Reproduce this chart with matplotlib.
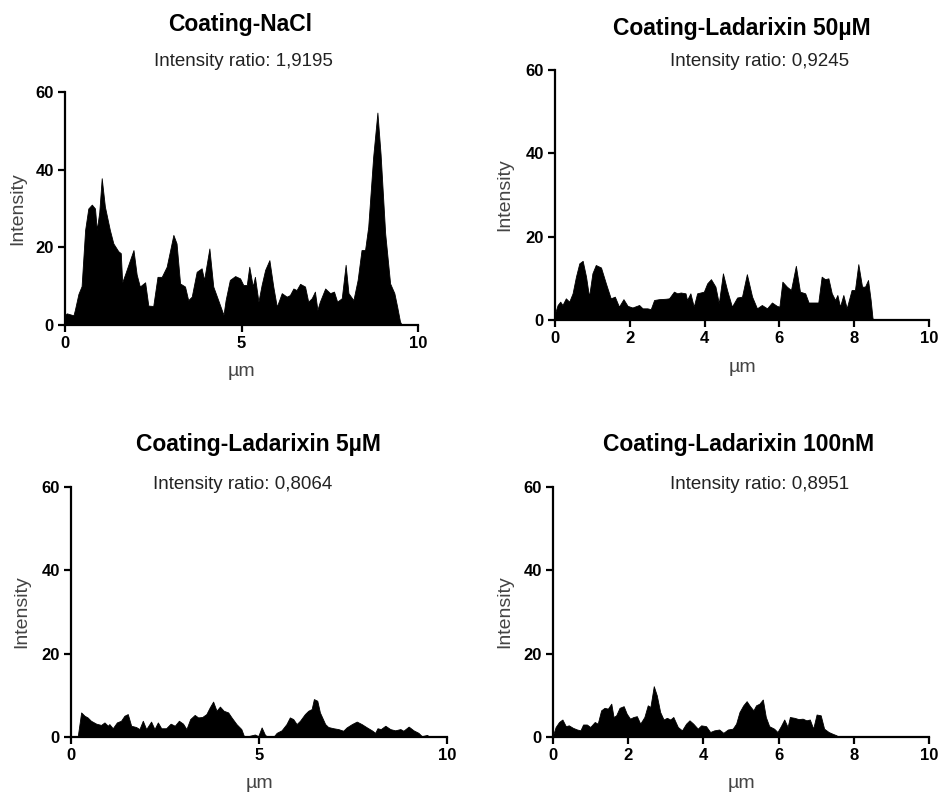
import matplotlib
matplotlib.use("Agg")
import matplotlib.pyplot as plt

plt.rcParams["font.family"] = ["Liberation Sans", "DejaVu Sans"]

# Coating-NaCl
nacl_x = [0.0, 0.05, 0.24, 0.28, 0.38, 0.47, 0.57, 0.66, 0.76, 0.85, 0.90, 0.97,
          1.04, 1.13, 1.27, 1.37, 1.51, 1.58, 1.62, 1.70, 1.84, 1.94, 2.03, 2.12,
          2.27, 2.36, 2.50, 2.62, 2.74, 2.88, 3.07, 3.16, 3.26, 3.40, 3.49, 3.59,
          3.73, 3.87, 3.94, 4.09, 4.20, 4.34, 4.49, 4.55, 4.67, 4.82, 4.96, 5.05,
          5.15, 5.22, 5.32, 5.38, 5.48, 5.57, 5.67, 5.79, 5.90, 6.00, 6.14, 6.28,
          6.37, 6.47, 6.56, 6.66, 6.80, 6.89, 6.99, 7.08, 7.15, 7.22, 7.37, 7.51,
          7.62, 7.71, 7.84, 7.95, 8.03, 8.17, 8.29, 8.40, 8.50, 8.59, 8.73, 8.85,
          8.94, 9.07, 9.21, 9.33, 9.41, 9.49, 9.54]
nacl_y = [2.6, 3.0, 2.5, 3.9, 8.0, 10.0, 24.5, 30.0, 31.0, 30.0, 24.5, 29.0,
          37.8, 30.5, 24.5, 21.0, 19.0, 18.5, 11.0, 13.0, 16.7, 19.3, 13.0, 9.9,
          11.0, 5.0, 4.9, 12.4, 12.4, 15.0, 23.2, 21.0, 10.7, 9.9, 6.4, 7.3,
          13.7, 14.6, 11.6, 19.7, 9.9, 6.4, 2.6, 6.4, 11.6, 12.6, 12.0, 10.3,
          10.3, 15.0, 9.9, 12.4, 6.0, 10.3, 14.2, 16.7, 9.9, 4.7, 8.2, 7.3,
          7.7, 9.4, 9.0, 10.6, 9.9, 6.0, 6.9, 8.6, 3.9, 6.0, 9.4, 8.2,
          8.6, 6.0, 6.9, 15.5, 8.2, 6.4, 11.6, 19.3, 19.3, 25.3, 43.3, 54.7,
          44.0, 23.6, 10.7, 8.2, 4.7, 0.9, 0.0]

# Coating-Ladarixin 50uM
lad50_x = [0.0, 0.07, 0.14, 0.20, 0.29, 0.38, 0.47, 0.56, 0.65, 0.74, 0.83, 0.91,
           1.00, 1.09, 1.23, 1.36, 1.49, 1.60, 1.71, 1.83, 1.94, 2.07, 2.25, 2.34,
           2.47, 2.56, 2.65, 2.78, 2.96, 3.05, 3.18, 3.27, 3.36, 3.49, 3.53, 3.62,
           3.71, 3.80, 3.98, 4.07, 4.17, 4.29, 4.38, 4.49, 4.60, 4.73, 4.87, 5.00,
           5.13, 5.27, 5.40, 5.53, 5.67, 5.80, 5.93, 6.00, 6.08, 6.20, 6.31, 6.44,
           6.55, 6.69, 6.78, 6.91, 7.04, 7.13, 7.22, 7.31, 7.40, 7.49, 7.55, 7.62,
           7.71, 7.80, 7.93, 8.02, 8.11, 8.21, 8.29, 8.37, 8.44, 8.49, 8.55]
lad50_y = [1.6, 3.6, 4.4, 3.6, 5.2, 4.4, 6.4, 10.4, 13.6, 14.2, 10.4, 5.6,
           11.2, 13.2, 12.6, 8.8, 5.2, 5.6, 3.2, 5.0, 3.4, 3.0, 3.6, 2.8,
           2.8, 2.6, 4.8, 5.0, 5.1, 5.2, 6.8, 6.4, 6.6, 6.4, 4.8, 6.4,
           3.2, 6.4, 6.8, 8.8, 9.8, 8.0, 4.0, 11.2, 7.2, 3.2, 5.4, 5.6,
           11.0, 5.6, 2.8, 3.6, 2.8, 4.2, 3.4, 3.2, 9.2, 8.0, 7.2, 13.0,
           6.8, 6.4, 4.2, 4.2, 4.2, 10.4, 9.8, 10.0, 6.4, 4.8, 6.0, 3.2,
           6.0, 2.8, 7.2, 7.2, 13.4, 8.0, 8.0, 9.6, 4.8, 0.4, 0.0]

# Coating-Ladarixin 5uM
lad5_x = [0.0, 0.18, 0.27, 0.36, 0.44, 0.53, 0.67, 0.80, 0.89, 0.98, 1.02, 1.11,
          1.22, 1.33, 1.42, 1.51, 1.60, 1.73, 1.82, 1.91, 2.00, 2.13, 2.22, 2.31,
          2.40, 2.53, 2.65, 2.76, 2.87, 2.98, 3.07, 3.17, 3.29, 3.38, 3.49, 3.60,
          3.69, 3.78, 3.87, 3.96, 4.06, 4.18, 4.27, 4.40, 4.53, 4.60, 4.71, 4.89,
          4.98, 5.07, 5.16, 5.24, 5.38, 5.47, 5.60, 5.73, 5.82, 5.91, 6.00, 6.09,
          6.22, 6.31, 6.40, 6.46, 6.55, 6.62, 6.76, 6.84, 6.98, 7.11, 7.24, 7.33,
          7.47, 7.60, 7.73, 7.87, 8.00, 8.09, 8.15, 8.24, 8.36, 8.49, 8.62, 8.76,
          8.84, 8.98, 9.11, 9.24, 9.33, 9.47, 9.54]
lad5_y = [0.0, 0.2, 5.9, 5.1, 4.7, 3.9, 3.2, 2.9, 3.5, 2.7, 3.1, 2.1,
          3.5, 3.9, 5.1, 5.5, 2.7, 2.4, 1.9, 3.9, 1.9, 3.7, 1.9, 3.5,
          2.1, 2.1, 3.2, 2.7, 3.9, 3.2, 1.9, 4.3, 5.3, 4.7, 4.8, 5.5,
          7.1, 8.5, 6.3, 7.3, 6.3, 5.9, 4.7, 3.1, 1.9, 0.2, 0.2, 0.6,
          0.2, 2.3, 0.5, 0.0, 0.0, 1.0, 1.6, 3.1, 4.7, 4.3, 3.1, 3.9,
          5.5, 6.3, 6.7, 9.1, 8.7, 5.9, 3.1, 2.4, 2.1, 1.9, 1.5, 2.3,
          3.1, 3.7, 3.1, 2.3, 1.6, 1.0, 2.1, 1.9, 2.7, 1.9, 1.6, 1.9,
          1.5, 2.5, 1.6, 1.0, 0.2, 0.5, 0.0]

# Coating-Ladarixin 100nM
lad100_x = [0.0, 0.07, 0.16, 0.25, 0.34, 0.42, 0.53, 0.64, 0.73, 0.80, 0.90, 0.99,
            1.11, 1.19, 1.28, 1.37, 1.46, 1.55, 1.61, 1.68, 1.77, 1.88, 1.96, 2.05,
            2.14, 2.23, 2.32, 2.43, 2.52, 2.59, 2.68, 2.76, 2.85, 2.94, 3.03, 3.12,
            3.20, 3.32, 3.43, 3.54, 3.63, 3.73, 3.85, 3.94, 4.07, 4.18, 4.29, 4.42,
            4.53, 4.65, 4.78, 4.87, 4.96, 5.06, 5.15, 5.24, 5.33, 5.40, 5.49, 5.58,
            5.66, 5.75, 5.88, 5.97, 6.06, 6.15, 6.24, 6.30, 6.42, 6.53, 6.64, 6.74,
            6.83, 6.92, 7.01, 7.12, 7.21, 7.33, 7.43, 7.54, 7.59]
lad100_y = [0.4, 2.4, 3.6, 4.2, 2.6, 2.8, 2.2, 1.8, 1.6, 3.0, 3.0, 2.4,
            3.6, 3.2, 6.4, 7.0, 6.8, 8.0, 4.8, 5.2, 7.0, 7.4, 5.6, 4.4,
            4.8, 5.0, 3.2, 4.8, 7.6, 7.2, 12.2, 10.0, 6.0, 4.2, 4.6, 4.2,
            4.8, 2.4, 1.6, 3.2, 4.0, 3.2, 2.0, 2.8, 2.6, 1.2, 1.6, 1.8,
            1.0, 1.8, 2.0, 3.2, 6.0, 7.6, 8.6, 7.4, 6.4, 7.6, 8.0, 9.0,
            4.8, 2.6, 2.0, 1.2, 2.6, 4.2, 2.4, 4.8, 4.6, 4.3, 4.4, 4.0,
            4.2, 2.0, 5.4, 5.2, 2.0, 1.2, 0.8, 0.4, 0.0]

titles = ["Coating-NaCl", "Coating-Ladarixin 50µM",
          "Coating-Ladarixin 5µM", "Coating-Ladarixin 100nM"]
ratios = ["Intensity ratio: 1,9195", "Intensity ratio: 0,9245",
          "Intensity ratio: 0,8064", "Intensity ratio: 0,8951"]
xticks_list = [[0, 5, 10], [0, 2, 4, 6, 8, 10], [0, 5, 10], [0, 2, 4, 6, 8, 10]]
yticks = [0, 20, 40, 60]

W, H = 942, 797
# axes boxes in pixels: left, top, right, bottom
boxes = [(65, 92, 418, 325), (555, 70, 929, 320),
         (71, 487, 447, 737), (553, 487, 929, 737)]
title_pos = [(240, 24), (742, 28), (258, 445), (739, 445)]
ratio_pos = [(243, 62), (760, 62), (243, 485), (760, 485)]
ylabel_px = [18, 505, 22, 505]

fig = plt.figure(figsize=(W / 100, H / 100), dpi=100)

data = [(nacl_x, nacl_y), (lad50_x, lad50_y), (lad5_x, lad5_y), (lad100_x, lad100_y)]
for i, (x, y) in enumerate(data):
    l, t, r, b = boxes[i]
    ax = fig.add_axes([l / W, 1 - b / H, (r - l) / W, (b - t) / H])
    ax.fill_between(x, y, 0, color="black", linewidth=0.6)
    ax.set_xlim(0, 10)
    ax.set_ylim(0, 60)
    ax.set_xticks(xticks_list[i])
    ax.set_yticks(yticks)
    for s in ["top", "right"]:
        ax.spines[s].set_visible(False)
    for s in ["left", "bottom"]:
        ax.spines[s].set_linewidth(1.6)
    ax.tick_params(direction="out", length=5, width=1.6, labelsize=12, pad=3)
    for lab in ax.get_xticklabels() + ax.get_yticklabels():
        lab.set_fontweight("bold")
    ax.set_ylabel("Intensity", fontsize=14, color="#444444")
    ax.yaxis.set_label_coords((ylabel_px[i] - l) / (r - l), 0.5)
    ax.set_xlabel("µm", fontsize=14, color="#444444")
    ax.xaxis.set_label_coords(0.5, -47 / (b - t))
    ax.xaxis.label.set_verticalalignment("center")
    ax.yaxis.label.set_verticalalignment("center")

    tx, ty = title_pos[i]
    fig.text(tx / W, 1 - ty / H, titles[i], fontsize=16.5, fontweight="bold",
             ha="center", va="center")
    rx, ry = ratio_pos[i]
    fig.text(rx / W, 1 - ry / H, ratios[i], fontsize=13.5, color="#222222",
             ha="center", va="center")

fig.savefig("out.png", dpi=100)
